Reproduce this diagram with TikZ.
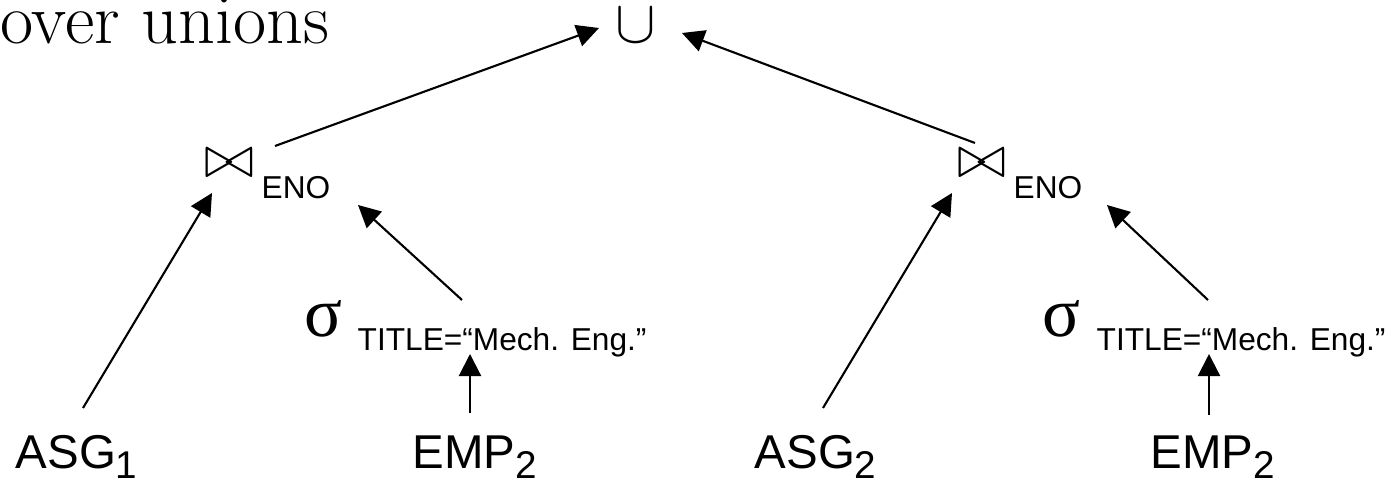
\documentclass[tikz,border=0pt]{standalone}
\usepackage{amsmath,amssymb}
\usepackage{fontspec}
\usepackage{tikz}
\usetikzlibrary{arrows.meta,positioning}

\newfontfamily\arialfont{Liberation Sans}
\newfontfamily\timesfont{Liberation Serif}
\newcommand{\relidx}[1]{\raisebox{-3pt}{\fontsize{11}{11}\selectfont #1}}

\tikzset{
  op/.style={inner sep=0pt},
  rel/.style={inner sep=0pt, font=\arialfont\fontsize{13.5}{14}\selectfont},
  cond/.style={inner sep=0pt, font=\arialfont\fontsize{9}{10}\selectfont},
  arr/.style={-{Triangle[length=6.3pt,width=6.3pt]}, line width=0.6pt},
}

\begin{document}
\begin{tikzpicture}[x=0.01cm,y=-0.01cm]
    \useasboundingbox (0,0) rectangle (1391,482);

    \node[op, anchor=base west, font=\fontsize{20.5}{22}\selectfont] (title) at (0,44) {over unions};

    % union on top
    \node[op, font=\fontsize{16}{16}\selectfont] (union) at (636,26) {$\cup$};

    % the two joins
    \node[op, font=\fontsize{16}{16}\selectfont] (join1) at (229.6,163.5) {$\bowtie$};
    \node[cond, anchor=base west] (eno1) at (261,199) {ENO};
    \node[op, font=\fontsize{16}{16}\selectfont] (join2) at (982,163.5) {$\bowtie$};
    \node[cond, anchor=base west] (eno2) at (1013,199) {ENO};

    % selections
    \node[op, anchor=base west, font=\timesfont\fontsize{20}{20}\selectfont] (sig1) at (304,337) {σ};
    \node[cond, anchor=base west] (cond1) at (357,350) {TITLE=“Mech. Eng.”};
    \node[op, anchor=base west, font=\timesfont\fontsize{20}{20}\selectfont] (sig2) at (1042,337) {σ};
    \node[cond, anchor=base west] (cond2) at (1096,350) {TITLE=“Mech. Eng.”};

    % fragments
    \node[rel, anchor=base west] (asg1) at (15,468) {ASG\relidx{1}};
    \node[rel, anchor=base west] (emp1) at (412,468) {EMP\relidx{2}};
    \node[rel, anchor=base west] (asg2) at (754,468) {ASG\relidx{2}};
    \node[rel, anchor=base west] (emp2) at (1150,468) {EMP\relidx{2}};

    % left branch
    \draw[arr] ([shift={(45.4,-17.5)}]join1.center) -- ([shift={(-37,2)}]union.center);
    \draw[arr] ([shift={(68,-60)}]asg1.base west) -- ([shift={(-17.6,29.5)}]join1.center);
    \draw[arr] ([shift={(105,-50)}]cond1.base west) -- ([shift={(97,6)}]eno1.base west);
    \draw[arr] ([shift={(58,-55)}]emp1.base west) -- ([shift={(113,4)}]cond1.base west);

    % right branch
    \draw[arr] ([shift={(-7,-20.5)}]join2.center) -- ([shift={(46,7)}]union.center);
    \draw[arr] ([shift={(69,-60)}]asg2.base west) -- ([shift={(-30,29.5)}]join2.center);
    \draw[arr] ([shift={(112,-50)}]cond2.base west) -- ([shift={(94,6)}]eno2.base west);
    \draw[arr] ([shift={(59,-53)}]emp2.base west) -- ([shift={(113,4)}]cond2.base west);
\end{tikzpicture}
\end{document}
